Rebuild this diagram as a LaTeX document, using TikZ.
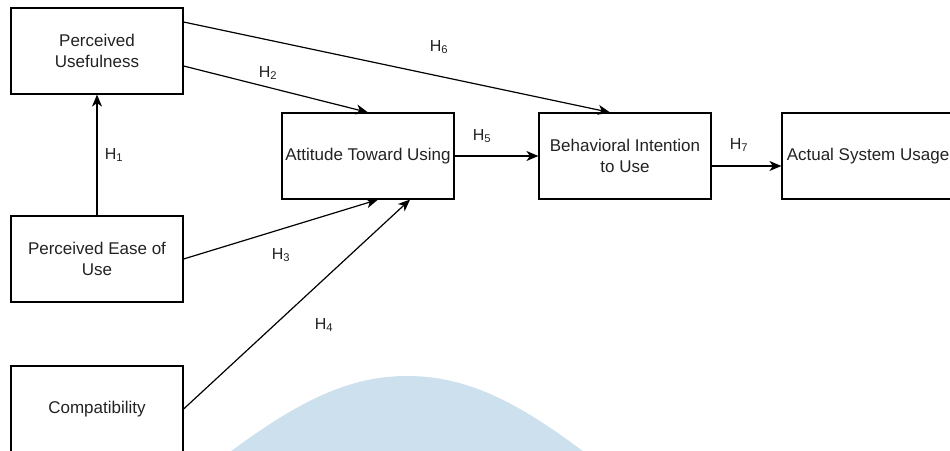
\documentclass[tikz,border=0pt]{standalone}
\usepackage{fontspec}
\setmainfont{Liberation Sans}
\usetikzlibrary{arrows.meta,calc}
\definecolor{bell}{RGB}{204,224,237}
\definecolor{txt}{RGB}{34,34,34}
\begin{document}
\begin{tikzpicture}[x=1pt,y=-1pt,
  box/.style={draw=black,line width=1.2pt,minimum width=172pt,minimum height=86pt,
    inner sep=2pt,align=center,text=txt,font=\fontsize{17}{21}\selectfont},
  conn/.style={line width=1.2pt,-{Stealth[length=12pt,width=10pt,inset=3.5pt]}},
  hlab/.style={text=txt,font=\fontsize{16}{18}\selectfont,inner sep=0pt}]
\useasboundingbox (0,0) rectangle (950,450);
\clip (0,0) rectangle (950,450);
\fill[bell] (230,452) .. controls (300,400) and (350,376) .. (407,376)
  .. controls (465,376) and (515,400) .. (584,452) -- cycle;
\node[box] (pu) at (97,51) {Perceived\\Usefulness};
\node[box] (peu) at (97,259) {Perceived Ease of\\Use};
\node[box] (comp) at (97,409) {Compatibility};
\node[box] (atu) at (368,156) {Attitude Toward Using};
\node[box] (biu) at (625,156) {Behavioral Intention\\to Use};
\node[box] (asu) at (868,156) {Actual System Usage};
\draw[conn] (peu.north) -- (pu.south);
\draw[conn] ($(pu.east)+(0,15)$) -- (atu.north);
\draw[conn] ($(pu.east)+(0,-29)$) -- ($(biu.north)+(-15,0)$);
\draw[conn] (peu.east) -- ($(atu.south)+(10,0)$);
\draw[conn] (comp.east) -- ($(atu.south)+(42,0)$);
\draw[conn] (atu.east) -- (biu.west);
\draw[conn] ($(biu.east)+(0,10)$) -- ($(asu.west)+(0,10)$);
\node[hlab] (h1) at (114,155) {H\textsubscript{1}};
\node[hlab] (h2) at (268,73) {H\textsubscript{2}};
\node[hlab] (h3) at (281,255) {H\textsubscript{3}};
\node[hlab] (h4) at (324,325) {H\textsubscript{4}};
\node[hlab] (h5) at (482,136) {H\textsubscript{5}};
\node[hlab] (h6) at (439,47) {H\textsubscript{6}};
\node[hlab] (h7) at (739,145) {H\textsubscript{7}};
\end{tikzpicture}
\end{document}
